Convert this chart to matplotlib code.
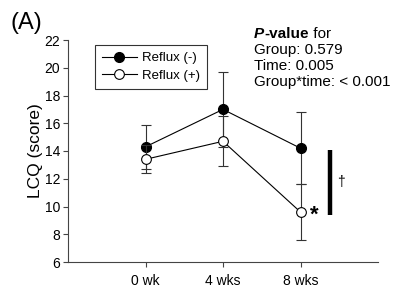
import matplotlib
matplotlib.use("Agg")
import matplotlib.pyplot as plt
from matplotlib.lines import Line2D

plt.rcParams['font.family'] = ['Liberation Sans', 'DejaVu Sans']

categories = ["0 wk", "4 wks", "8 wks"]
neg_mean = [14.3, 17.0, 14.2]
neg_sd = [1.6, 2.7, 2.6]
pos_mean = [13.4, 14.7, 9.6]
pos_sd = [1.0, 1.8, 2.0]
series_labels = ["Reflux (-)", "Reflux (+)"]

fig = plt.figure(figsize=(3.96, 2.88), dpi=100)
ax = fig.add_axes([68/396, 1-262/288, (378-68)/396, (262-40)/288])

x = list(range(len(categories)))
ax.errorbar(x, neg_mean, yerr=neg_sd, color='black', lw=0.8, marker='o', ms=7,
            mfc='black', mec='black', capsize=3.5, capthick=0.8, elinewidth=0.8,
            ecolor='#333333', zorder=3)
ax.errorbar(x, pos_mean, yerr=pos_sd, color='black', lw=0.8, marker='o', ms=7,
            mfc='white', mec='black', mew=0.8, capsize=3.5, capthick=0.8, elinewidth=0.8,
            ecolor='#333333', zorder=4)

ax.set_xlim(-1, 3)
ax.set_ylim(6, 22)
ax.set_yticks(range(6, 23, 2))
ax.set_xticks(x)
ax.set_xticklabels(categories)
ax.tick_params(axis='both', labelsize=10, width=0.8, length=3.6, color='#444444')
ax.tick_params(axis='x', pad=5)
ax.tick_params(axis='y', pad=2)
for s in ['top', 'right']:
    ax.spines[s].set_visible(False)
for s in ['left', 'bottom']:
    ax.spines[s].set_linewidth(0.8)
    ax.spines[s].set_color('#444444')
ax.set_ylabel('LCQ (score)', fontsize=12.5, labelpad=1)

# significance bar
ax.plot([2.38, 2.38], [9.4, 14.1], color='black', lw=3.2, solid_capstyle='butt')
ax.text(2.52, 11.8, '\u2020', fontsize=10, ha='center', va='center')
ax.text(2.18, 9.35, '*', fontsize=16, ha='center', va='center', fontweight='bold')

handles = [
    Line2D([], [], color='black', lw=0.8, marker='o', ms=7, mfc='black', mec='black'),
    Line2D([], [], color='black', lw=0.8, marker='o', ms=7, mfc='white', mec='black', mew=0.8),
]
leg = ax.legend(handles, series_labels, loc='upper left',
                bbox_to_anchor=((95-68)/310, 1 - 5/222),
                bbox_transform=ax.transAxes, frameon=True, fancybox=False,
                fontsize=9.5, handlelength=2.6, borderpad=0.55, labelspacing=0.4,
                handletextpad=0.4, borderaxespad=0)
leg.get_frame().set_edgecolor('black')
leg.get_frame().set_linewidth(0.8)

fs = 11
t1 = fig.text(254/396, 1-38/288, 'P', fontsize=fs, va='baseline',
              fontweight='bold', fontstyle='italic')
t2 = ax.annotate('-value', xy=(1, 0), xycoords=t1, fontsize=fs, va='bottom',
                 ha='left', fontweight='bold', annotation_clip=False)
t3 = ax.annotate(' for', xy=(1, 0), xycoords=t2, fontsize=fs, va='bottom',
                 ha='left', annotation_clip=False)
fig.text(254/396, 1-50/288, 'Group: 0.579', fontsize=fs, va='center')
fig.text(254/396, 1-66/288, 'Time: 0.005', fontsize=fs, va='center')
fig.text(254/396, 1-82/288, 'Group*time: < 0.001', fontsize=fs, va='center')

fig.text(11/396, 1-23/288, '(A)', fontsize=17, va='center')

fig.savefig('out.png', dpi=100)
